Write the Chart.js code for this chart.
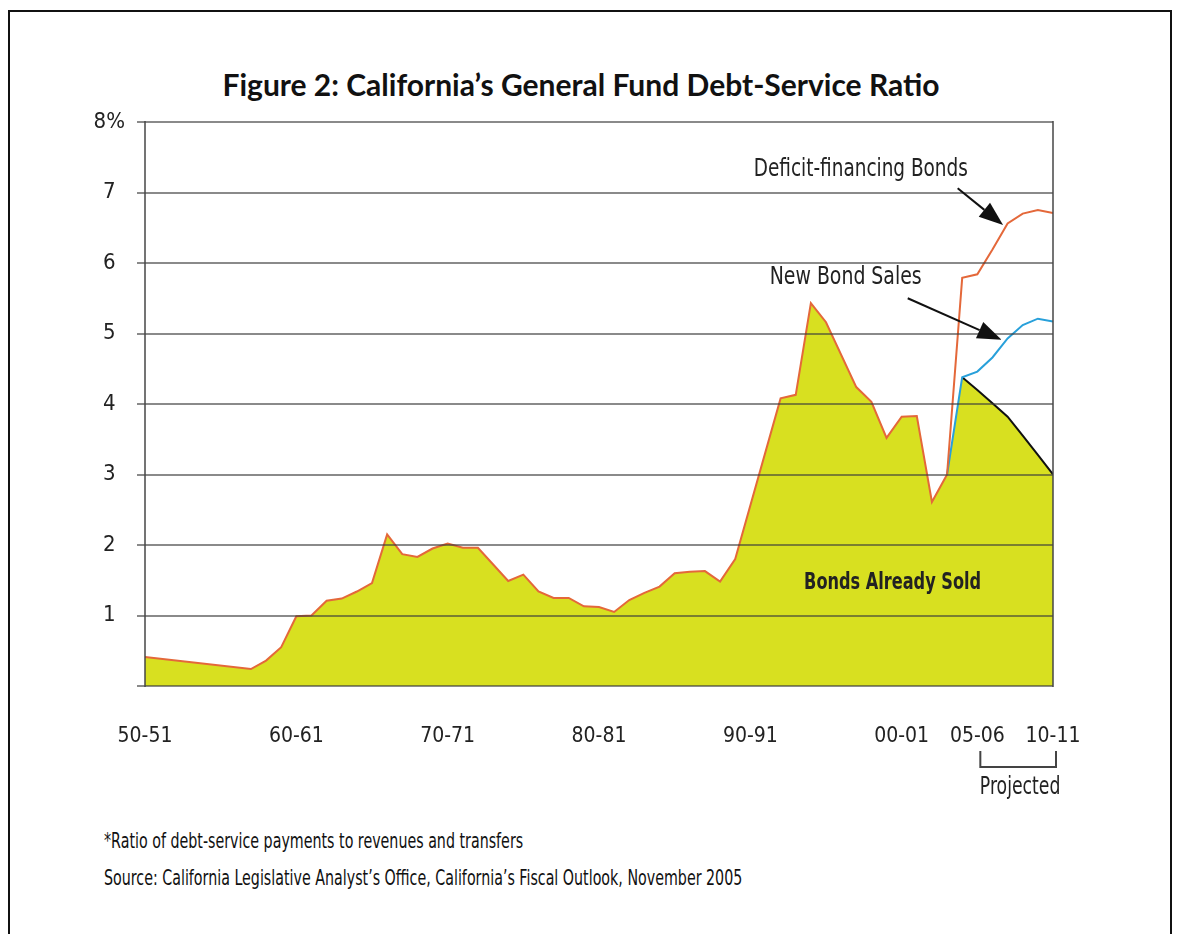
<!DOCTYPE html>
<html>
<head>
<meta charset="utf-8">
<script src="https://cdn.jsdelivr.net/npm/chart.js@4.4.1/dist/chart.umd.min.js"></script>
<style>
    html, body { margin: 0; padding: 0; background: #fff; }
    body { width: 1178px; height: 934px; position: relative; overflow: hidden; }
    #frame { position: absolute; left: 8px; top: 10px; width: 1160px; height: 960px; border: 2px solid #111; }
    #title { position: absolute; top: 66px; left: -8px; width: 1178px; text-align: center;
             font-family: Lato, sans-serif; font-weight: bold; font-size: 30px; color: #111; }
    .note { position: absolute; left: 104px; font-family: "DejaVu Sans Condensed", sans-serif;
            font-size: 22px; color: #111; white-space: nowrap;
            transform: scaleX(0.72); transform-origin: left top; }
    #chart-box { position: absolute; left: 0; top: 0; width: 1178px; height: 934px; }
</style>
</head>
<body>
<div id="frame"></div>
<div id="title">Figure 2: California’s General Fund Debt-Service Ratio</div>
<div class="note" style="top:828px">*Ratio of debt-service payments to revenues and transfers</div>
<div class="note" style="top:865px">Source: California Legislative Analyst’s Office, California’s Fiscal Outlook, November 2005</div>
<div id="chart-box"><canvas id="chart" width="1178" height="934"></canvas></div>

<script>
// Historical debt-service ratio (bonds already sold), fiscal year start
const histYears = [1950, 1957, 1958, 1959, 1960, 1961, 1962, 1963, 1964, 1965, 1966, 1967, 1968, 1969,
    1970, 1971, 1972, 1974, 1975, 1976, 1977, 1978, 1979, 1980, 1981, 1982, 1983, 1984, 1985, 1986,
    1987, 1988, 1989, 1992, 1993, 1994, 1995, 1997, 1998, 1999, 2000, 2001, 2002, 2003];
const histValues = [0.41, 0.24, 0.36, 0.55, 0.99, 1.0, 1.21, 1.24, 1.34, 1.46, 2.15, 1.87, 1.83, 1.95,
    2.02, 1.96, 1.96, 1.49, 1.58, 1.34, 1.25, 1.25, 1.13, 1.12, 1.05, 1.22, 1.32, 1.41, 1.6, 1.62,
    1.63, 1.48, 1.8, 4.08, 4.13, 5.43, 5.16, 4.24, 4.03, 3.52, 3.82, 3.83, 2.61, 3.0];

// Projections
const projYears = [2003, 2004, 2005, 2006, 2007, 2008, 2009, 2010];
const alreadySold = [3.0, 4.38, 4.2, 4.01, 3.82, 3.55, 3.28, 3.0];
const newBondSales = [3.0, 4.38, 4.46, 4.66, 4.93, 5.12, 5.21, 5.17];
const deficitBonds = [3.0, 5.79, 5.84, 6.19, 6.56, 6.7, 6.75, 6.71];

// Axis ticks
const xTickYears = [1950, 1960, 1970, 1980, 1990, 2000, 2005, 2010];
const xTickLabels = ['50-51', '60-61', '70-71', '80-81', '90-91', '00-01', '05-06', '10-11'];
const yTickValues = [0, 1, 2, 3, 4, 5, 6, 7, 8];
const yTickLabels = ['', '1', '2', '3', '4', '5', '6', '7', '8%'];

const FILL = 'rgb(216, 224, 32)';
const ORANGE = 'rgb(228, 104, 58)';
const BLUE = 'rgb(40, 160, 218)';
const AXIS = 'rgba(70,70,70,0.75)';
const NARROW = '"DejaVu Sans Condensed", sans-serif';

function toPoints(xs, ys) {
    return xs.map((x, i) => ({ x: x, y: ys[i] }));
}

// the filled area: history plus the bonds-already-sold projection
const soldPoints = toPoints(histYears, histValues)
    .concat(toPoints(projYears.slice(1), alreadySold.slice(1)));

// condensed canvas text
function narrowText(ctx, text, x, y, font, squeeze) {
    ctx.save();
    ctx.font = font;
    ctx.translate(x, y);
    ctx.scale(squeeze, 1);
    ctx.fillText(text, 0, 0);
    ctx.restore();
}

function drawArrow(ctx, x0, y0, x1, y1) {
    const ang = Math.atan2(y1 - y0, x1 - x0);
    const len = 24, half = 9;
    const bx = x1 - len * Math.cos(ang), by = y1 - len * Math.sin(ang);
    ctx.strokeStyle = '#111';
    ctx.fillStyle = '#111';
    ctx.lineWidth = 2;
    ctx.beginPath();
    ctx.moveTo(x0, y0);
    ctx.lineTo(bx, by);
    ctx.stroke();
    ctx.beginPath();
    ctx.moveTo(x1, y1);
    ctx.lineTo(bx + half * Math.sin(ang), by - half * Math.cos(ang));
    ctx.lineTo(bx - half * Math.sin(ang), by + half * Math.cos(ang));
    ctx.closePath();
    ctx.fill();
}

// Plot frame sides, labels, arrows and the "Projected" bracket
const extrasPlugin = {
    id: 'extras',
    afterDraw(chart) {
        const ctx = chart.ctx;
        const xs = chart.scales.x;
        const ys = chart.scales.y;
        const area = chart.chartArea;
        const px = v => xs.getPixelForValue(v);
        const py = v => ys.getPixelForValue(v);

        ctx.save();
        ctx.strokeStyle = AXIS;
        ctx.lineWidth = 2;
        ctx.beginPath();
        ctx.moveTo(area.left, area.top - 1);
        ctx.lineTo(area.left, area.bottom + 1);
        ctx.moveTo(area.right, area.top - 1);
        ctx.lineTo(area.right, area.bottom + 1);
        ctx.stroke();

        ctx.fillStyle = '#222';
        ctx.textAlign = 'center';
        ctx.textBaseline = 'middle';
        narrowText(ctx, 'Deficit-financing Bonds', px(1997.3), py(7.32), '25px ' + NARROW, 0.82);
        narrowText(ctx, 'New Bond Sales', px(1996.3), py(5.79), '25px ' + NARROW, 0.84);
        narrowText(ctx, 'Bonds Already Sold', px(1999.4), py(1.46), 'bold 23px ' + NARROW, 0.78);

        drawArrow(ctx, px(2003.7), py(7.06), px(2006.7), py(6.54));
        drawArrow(ctx, px(2000.4), py(5.5), px(2006.6), py(4.91));

        // projected bracket
        const x0 = px(2005) + 3, x1 = px(2010) + 3;
        ctx.strokeStyle = '#444';
        ctx.lineWidth = 2;
        ctx.beginPath();
        ctx.moveTo(x0, 751);
        ctx.lineTo(x0, 767);
        ctx.lineTo(x1, 767);
        ctx.lineTo(x1, 751);
        ctx.stroke();
        ctx.fillStyle = '#222';
        narrowText(ctx, 'Projected', (x0 + x1) / 2 + 2, 788, '24px ' + NARROW, 0.8);
        ctx.restore();
    }
};

const lineBase = { borderWidth: 2, pointRadius: 0, fill: false };

new Chart(document.getElementById('chart'), {
    type: 'line',
    data: {
        datasets: [
            Object.assign({ label: 'Deficit-financing Bonds', data: toPoints(projYears, deficitBonds), borderColor: ORANGE }, lineBase),
            Object.assign({ label: 'New Bond Sales', data: toPoints(projYears, newBondSales), borderColor: BLUE }, lineBase),
            Object.assign({ label: 'Already sold (projected)', data: toPoints(projYears.slice(1), alreadySold.slice(1)), borderColor: '#111' }, lineBase),
            Object.assign({ label: 'History', data: toPoints(histYears, histValues), borderColor: ORANGE }, lineBase),
            {
                label: 'Bonds Already Sold',
                data: soldPoints,
                borderWidth: 0,
                borderColor: FILL,
                backgroundColor: FILL,
                pointRadius: 0,
                fill: 'origin'
            }
        ]
    },
    options: {
        responsive: false,
        animation: false,
        layout: { padding: { left: 85, right: 125, top: 122, bottom: 188 } },
        plugins: {
            legend: { display: false },
            tooltip: { enabled: false }
        },
        scales: {
            x: {
                type: 'linear',
                min: 1950,
                max: 2010,
                afterBuildTicks: s => { s.ticks = xTickYears.map(v => ({ value: v })); },
                afterFit: s => { s.height = 60; },
                grid: { display: false },
                border: { display: false },
                ticks: {
                    autoSkip: false,
                    maxRotation: 0,
                    padding: 30,
                    color: '#222',
                    font: { family: NARROW, size: 21 },
                    callback: v => xTickLabels[xTickYears.indexOf(v)]
                }
            },
            y: {
                min: 0,
                max: 8,
                afterBuildTicks: s => { s.ticks = yTickValues.map(v => ({ value: v })); },
                afterFit: s => { s.width = 60; },
                grid: { color: 'rgba(60,60,60,0.6)', lineWidth: 2, tickLength: 8, z: 1 },
                border: { display: false },
                ticks: {
                    crossAlign: 'center',
                    padding: 12,
                    color: '#222',
                    font: { family: NARROW, size: 22 },
                    callback: v => yTickLabels[yTickValues.indexOf(v)]
                }
            }
        }
    },
    plugins: [extrasPlugin]
});
</script>
</body>
</html>
